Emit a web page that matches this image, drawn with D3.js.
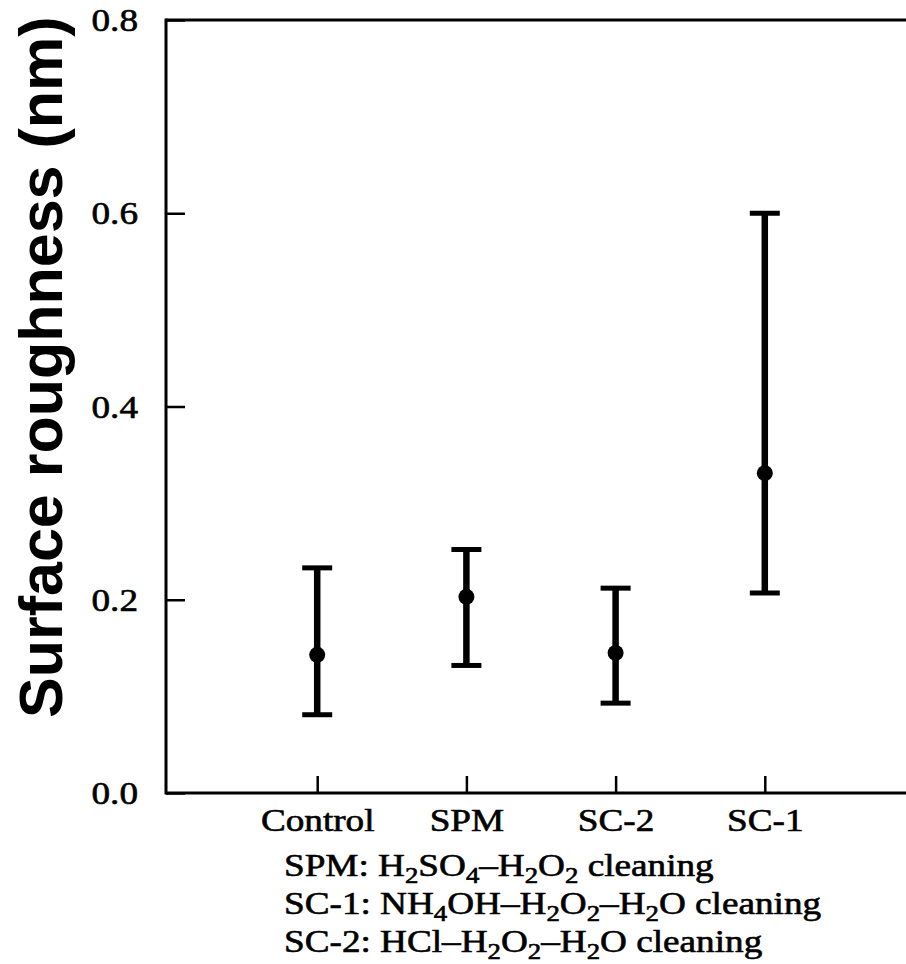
<!DOCTYPE html>
<html>
<head>
<meta charset="utf-8">
<script src="https://cdn.jsdelivr.net/npm/d3@7/dist/d3.min.js"></script>
<style>
  html, body { margin: 0; padding: 0; background: #fff; }
  svg { display: block; }
  .serif { font-family: "Liberation Serif", "Times New Roman", serif; fill: #000; stroke: #000; stroke-width: 0.6px; }
</style>
</head>
<body>
<svg id="chart" width="906" height="964"></svg>
<script>
// Surface roughness after each wet-cleaning treatment (mean with range)
const categories = ["Control", "SPM", "SC-2", "SC-1"];
const means = [0.143, 0.203, 0.145, 0.331];
const upper = [0.233, 0.252, 0.212, 0.600];
const lower = [0.081, 0.132, 0.093, 0.207];
const yTicks = [0.0, 0.2, 0.4, 0.6, 0.8];
const yTitle = "Surface roughness (nm)";

// Footnote lines: [text, isSubscript]
const notes = [
  [["SPM: H", 0], ["2", 1], ["SO", 0], ["4", 1], ["\u2013H", 0], ["2", 1], ["O", 0], ["2", 1], [" cleaning", 0]],
  [["SC-1: NH", 0], ["4", 1], ["OH\u2013H", 0], ["2", 1], ["O", 0], ["2", 1], ["\u2013H", 0], ["2", 1], ["O cleaning", 0]],
  [["SC-2: HCl\u2013H", 0], ["2", 1], ["O", 0], ["2", 1], ["\u2013H", 0], ["2", 1], ["O cleaning", 0]]
];

const plotLeft = 166, plotRight = 906, plotTop = 20, plotBottom = 793;
const fontSize = 31, stretch = 1.2;

const svg = d3.select("#chart");

const y = d3.scaleLinear().domain([0, 0.8]).range([plotBottom, plotTop]);
const x = d3.scalePoint().domain(categories).range([168, 914]).padding(1);

// Frame: left axis, top border, bottom axis
const frame = svg.append("g").attr("stroke", "#000").attr("stroke-width", 3).attr("fill", "none");
frame.append("line").attr("x1", plotLeft).attr("x2", plotLeft).attr("y1", y(0.8) - 1.5).attr("y2", y(0) + 1.5);
frame.append("line").attr("x1", plotLeft).attr("x2", plotRight).attr("y1", y(0.8)).attr("y2", y(0.8));
frame.append("line").attr("x1", plotLeft).attr("x2", plotRight).attr("y1", y(0)).attr("y2", y(0));

// Y axis: inward ticks, serif labels
const yAxis = svg.append("g")
  .attr("transform", `translate(${plotLeft},0)`)
  .call(d3.axisLeft(y).tickValues(yTicks).tickFormat(d3.format(".1f")).tickSize(-19).tickSizeOuter(0).tickPadding(28));
yAxis.select(".domain").remove();
yAxis.selectAll(".tick line").attr("stroke", "#000").attr("stroke-width", 2.5);
yAxis.selectAll(".tick text")
  .attr("class", "serif")
  .attr("font-size", fontSize)
  .attr("x", 0)
  .attr("dy", "0.34em")
  .attr("transform", `translate(-28,0) scale(${stretch},1)`);

// X axis: upward ticks, category labels below
const xAxis = svg.append("g")
  .attr("transform", `translate(0,${plotBottom})`)
  .call(d3.axisBottom(x).tickSize(-17).tickSizeOuter(0).tickPadding(38));
xAxis.select(".domain").remove();
xAxis.selectAll(".tick line").attr("stroke", "#000").attr("stroke-width", 2.5);
xAxis.selectAll(".tick text")
  .attr("class", "serif")
  .attr("font-size", fontSize)
  .attr("y", 0)
  .attr("dy", 0)
  .attr("transform", `translate(0,38) scale(${stretch},1)`);

// Error bars with mean markers
const capW = 30;
const bars = svg.append("g").selectAll("g")
  .data(categories)
  .join("g")
  .attr("transform", d => `translate(${x(d)},0)`);
bars.append("line")
  .attr("y1", (d, i) => y(upper[i])).attr("y2", (d, i) => y(lower[i]))
  .attr("stroke", "#000").attr("stroke-width", 6.5);
bars.append("line")
  .attr("x1", -capW / 2).attr("x2", capW / 2)
  .attr("y1", (d, i) => y(upper[i])).attr("y2", (d, i) => y(upper[i]))
  .attr("stroke", "#000").attr("stroke-width", 5);
bars.append("line")
  .attr("x1", -capW / 2).attr("x2", capW / 2)
  .attr("y1", (d, i) => y(lower[i])).attr("y2", (d, i) => y(lower[i]))
  .attr("stroke", "#000").attr("stroke-width", 5);
bars.append("circle")
  .attr("cy", (d, i) => y(means[i]))
  .attr("r", 8)
  .attr("fill", "#000");

// Y axis title
svg.append("text")
  .attr("transform", `translate(62,718) rotate(-90)`)
  .attr("text-anchor", "start")
  .attr("font-family", "\"Liberation Sans\", Arial, sans-serif")
  .attr("font-weight", "bold")
  .attr("font-size", 61)
  .attr("fill", "#000")
  .text(yTitle);

// Footnotes explaining the cleaning abbreviations
const noteBase = [876, 914, 952];
notes.forEach((segs, li) => {
  const t = svg.append("text")
    .attr("class", "serif")
    .attr("font-size", fontSize)
    .attr("transform", `translate(284,${noteBase[li]}) scale(${stretch},1)`);
  segs.forEach(([s, sub]) => {
    const ts = t.append("tspan").text(s);
    if (sub) ts.attr("font-size", fontSize * 0.72).attr("baseline-shift", "-30%");
  });
});
</script>
</body>
</html>
